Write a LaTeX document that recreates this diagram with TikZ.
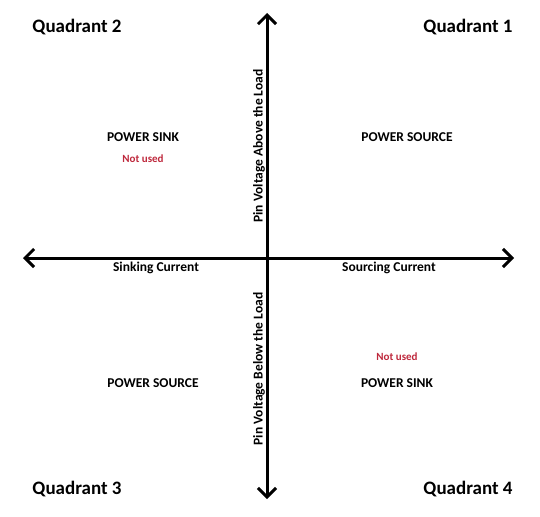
\documentclass[tikz,border=0pt]{standalone}
\usepackage{fontspec}
\setmainfont{Carlito}
\usetikzlibrary{arrows.meta,positioning}
\definecolor{nucol}{RGB}{190,40,60}
\tikzset{
  quadlab/.style ={font=\fontsize{19}{21}\selectfont\bfseries},
  powlab/.style  ={font=\fontsize{13.5}{15}\selectfont\bfseries},
  curlab/.style  ={font=\fontsize{13.5}{15}\selectfont\bfseries},
  nulab/.style   ={font=\fontsize{11}{13}\selectfont\bfseries, text=nucol},
  axarr/.style   ={-{Straight Barb[length=9pt,width=18pt,line width=3pt]},
                   line width=3pt},
}

\begin{document}
\begin{tikzpicture}[x=1pt, y=-1pt]
\useasboundingbox (0,0) rectangle (540,516);

%% Axis ends
\coordinate (orig) at (267,258);
\coordinate (xl) at (23,258);
\coordinate (xr) at (514,258);
\coordinate (yt) at (267,13);
\coordinate (yb) at (267,499);

%% Axes
\draw[axarr] (orig) -- (xl);
\draw[axarr] (orig) -- (xr);
\draw[axarr] (orig) -- (yt);
\draw[axarr] (orig) -- (yb);

%% Quadrant names
\node[quadlab] (q2) at (77,27)  {Quadrant 2};
\node[quadlab] (q1) at (468,27) {Quadrant 1};
\node[quadlab] (q3) at (77,489) {Quadrant 3};
\node[quadlab] (q4) at (468,489){Quadrant 4};

%% Upper half
\node[powlab] (sink2) at (143,137) {POWER SINK};
\node[nulab, below=6pt of sink2] (nu2) {Not used};
\node[powlab] (src1) at (407,137) {POWER SOURCE};

%% Lower half
\node[powlab] (src3) at (153,383) {POWER SOURCE};
\node[powlab] (sink4) at (397,383) {POWER SINK};
\node[nulab, above=10.5pt of sink4] (nu4) {Not used};

%% Current labels
\node[curlab] (sinkc) at (156,268) {Sinking Current};
\node[curlab] (srcc)  at (389,268) {Sourcing Current};

%% Voltage labels
\node[curlab, rotate=90] (vup) at (259,146) {Pin Voltage Above the Load};
\node[curlab, rotate=90] (vdn) at (259,369) {Pin Voltage Below the Load};

\end{tikzpicture}
\end{document}
